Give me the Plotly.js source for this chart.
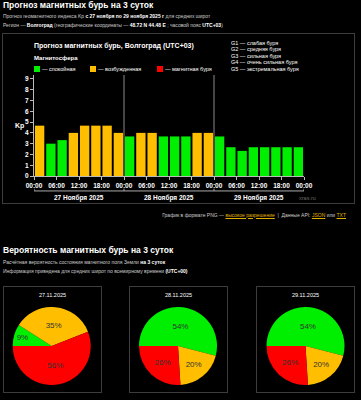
<!DOCTYPE html>
<html><head><meta charset="utf-8">
<script src="https://cdn.plot.ly/plotly-3.0.1.min.js"></script>
<style>
html,body{margin:0;padding:0;background:#000;width:361px;height:400px;overflow:hidden;font-family:"Liberation Sans",Arial,sans-serif;color:#fff;}
.a{position:absolute;white-space:nowrap;}
.h1{font-weight:bold;font-size:8.5px;line-height:9px;color:#fff;}
.sm{font-size:5px;line-height:5px;color:#ccc;}
.sm b{color:#fff;}
.box{position:absolute;border:1px solid #3c3c3c;box-sizing:border-box;}
.sq{position:absolute;width:6px;height:6px;}
.lg{font-size:5.5px;line-height:6px;color:#fff;}
.gl{font-size:5.5px;line-height:6.4px;color:#fff;}
.lnk{color:#e0b000;text-decoration:underline;}
.pt{font-size:5.5px;line-height:6px;color:#fff;text-align:center;width:99px;}
#bar{position:absolute;left:0;top:0;width:361px;height:210px;}
#pies{position:absolute;left:0;top:306.5px;width:361px;height:78px;}
</style></head><body>
<div class="a h1" style="left:3px;top:1px;">Прогноз магнитных бурь на 3 суток</div>
<div class="a sm" style="left:3px;top:14.3px;">Прогноз геомагнитного индекса Kp <b>с 27 ноября по 29 ноября 2025 г</b> для средних широт</div>
<div class="a sm" style="left:3px;top:23px;">Регион — <b>Волгоград</b> (географические координаты — <b>48.72 N 44.48 E</b> ; часовой пояс <b>UTC+03</b>)</div>
<div class="box" style="left:2px;top:33px;width:353px;height:171px;"></div>

<div class="a" style="left:34px;top:41.5px;font-weight:bold;font-size:7px;line-height:7px;">Прогноз магнитных бурь, Волгоград (UTC+03)</div>
<div class="a" style="left:34px;top:54.7px;font-weight:bold;font-size:6px;line-height:6px;">Магнитосфера</div>
<div id="legend"></div>
<div class="a gl" style="left:231px;top:40px;">G1 — слабая буря<br>G2 — средняя буря<br>G3 — сильная буря<br>G4 — очень сильная буря<br>G5 — экстремальная буря</div>

<div id="bar"></div>

<div class="a sm" style="right:15px;top:212.5px;">График в формате PNG — <span class="lnk">высокое разрешение</span> &nbsp;|&nbsp; Данные API: <span class="lnk">JSON</span> или <span class="lnk">TXT</span></div>

<div class="a h1" style="left:3px;top:245.5px;">Вероятность магнитных бурь на 3 суток</div>
<div class="a sm" style="left:3px;top:259.5px;">Расчётная вероятность состояния магнитного поля Земли <b>на 3 суток</b></div>
<div class="a sm" style="left:3px;top:269.2px;">Информация приведена для средних широт по всемирному времени <b>(UTC+00)</b></div>
<div id="pieboxes"></div>
<div id="pies"></div>

<script>
// ---- data ----
const days = ['2025-11-27', '2025-11-28', '2025-11-29'];
const dayLabels = ['27 Ноября 2025', '28 Ноября 2025', '29 Ноября 2025'];
const slots = ['00:00','03:00','06:00','09:00','12:00','15:00','18:00','21:00'];
const kpDay1 = [4.67, 3.00, 3.33, 4.00, 4.67, 4.67, 4.67, 4.00];
const kpDay2 = [3.67, 4.00, 4.00, 3.67, 3.67, 3.67, 4.00, 4.00];
const kpDay3 = [3.67, 2.67, 2.33, 2.67, 2.67, 2.67, 2.67, 2.67];
const kpTicks = [0,1,2,3,4,5,6,7,8,9];
const gTickText = ['','','','','','G1','G2','G3','G4','G5'];
const stateNames = ['спокойная', 'возбужденная', 'магнитная буря'];
const pieDates = ['27.11.2025', '28.11.2025', '29.11.2025'];
const pieCalm = [9, 54, 54];
const pieExcited = [35, 20, 20];
const pieStorm = [56, 26, 26];

// ---- styles ----
const GREEN = '#00ee00', ORANGE = '#ffbf00', RED = '#ff0000';
const stateColors = [GREEN, ORANGE, RED];
const FONT = 'Liberation Sans, Arial, sans-serif';
const tf = () => ({family:FONT, size:6.5, color:'#ffffff', weight:'bold'});

// legend (HTML)
const legendLeft = [34, 90, 157];
let lg = '';
stateNames.forEach((n, i) => {
  lg += `<div class="sq" style="left:${legendLeft[i]}px;top:66px;background:${stateColors[i]}"></div>`;
  lg += `<div class="a lg" style="left:${legendLeft[i]+8}px;top:66px;">— ${n}</div>`;
});
document.getElementById('legend').innerHTML = lg;

// ---- bar chart ----
const kpAll = [kpDay1, kpDay2, kpDay3];
const xs = [], ys = [], cols = [];
days.forEach((d, di) => slots.forEach((s, si) => {
  xs.push(d + ' ' + s);
  const v = kpAll[di][si];
  ys.push(v);
  cols.push(v >= 5 ? RED : (v >= 4 ? ORANGE : GREEN));
}));
const endDate = '2025-11-30';
const bounds = days.concat([endDate]);

const shapes = [];
bounds.slice(1, -1).forEach(b => shapes.push({type:'line', xref:'x', yref:'paper', x0:b, x1:b, y0:0, y1:1, line:{color:'#8a8a8a', width:1}}));
shapes.push({type:'line', xref:'x', yref:'paper', x0:bounds[0], x1:endDate, y0:-0.148, y1:-0.148, line:{color:'#aaa', width:1}});
bounds.forEach(b => shapes.push({type:'line', xref:'x', yref:'paper', x0:b, x1:b, y0:-0.148, y1:-0.125, line:{color:'#aaa', width:1}}));

const annotations = days.map((d, i) => ({
  x: d + ' 12:00', xref:'x', y:-0.218, yref:'paper', text: dayLabels[i], showarrow:false,
  font:tf(), yanchor:'middle'
}));
annotations.push({x:-0.055, xref:'paper', y:0.495, yref:'paper', text:'Kp', showarrow:false,
  font:{family:FONT, size:7, color:'#ffffff', weight:'bold'}, xanchor:'center', yanchor:'middle'});
annotations.push({x:1.012, xref:'paper', y:-0.218, yref:'paper', text:'xras.ru', showarrow:false,
  font:{family:FONT, size:5.5, color:'#6a6a6a'}, xanchor:'center', yanchor:'middle'});

Plotly.newPlot('bar', [{
  type:'bar', x:xs, y:ys, marker:{color:cols, line:{width:0}},
  xperiod: 3*3600*1000, xperiodalignment:'middle', hoverinfo:'skip'
}], {
  width:361, height:210, margin:{l:34, r:57, t:75, b:34},
  paper_bgcolor:'rgba(0,0,0,0)', plot_bgcolor:'rgba(0,0,0,0)',
  font:{family:FONT, color:'#ffffff'},
  bargap:0.17, showlegend:false,
  xaxis:{type:'date', range:[days[0], endDate], tick0:days[0], dtick:6*3600*1000, tickformat:'%H:%M',
    color:'#ffffff', showline:true, linecolor:'#bbb', ticks:'outside', ticklen:3, tickcolor:'#bbb', showgrid:false, zeroline:false,
    tickfont:tf()},
  yaxis:{range:[0, 9.37], tickvals:kpTicks, color:'#ffffff', showline:true, linecolor:'#bbb', ticks:'outside', ticklen:3,
    tickcolor:'#bbb', showgrid:false, zeroline:false, tickfont:tf()},
  yaxis2:{overlaying:'y', side:'right', anchor:'x', range:[0, 9.37], tickvals:kpTicks, ticktext:gTickText,
    color:'#ffffff', showline:true, linecolor:'#bbb', ticks:'outside', ticklen:3, tickcolor:'#bbb', showgrid:false, zeroline:false,
    tickfont:tf()},
  shapes:shapes, annotations:annotations
}, {staticPlot:true});

// ---- pies ----
const boxLeft = [3, 129, 256];
let pb = '';
pieDates.forEach((d, i) => {
  pb += `<div class="box" style="left:${boxLeft[i]}px;top:286px;width:99px;height:107px;"></div>`;
  pb += `<div class="a pt" style="left:${boxLeft[i]}px;top:292px;">${d}</div>`;
});
document.getElementById('pieboxes').innerHTML = pb;

const pieDomains = [[12.7, 90.7], [139, 217], [266.5, 344.5]];
const pieTraces = pieDates.map((d, i) => ({
  type:'pie', values:[pieCalm[i], pieExcited[i], pieStorm[i]], labels:stateNames,
  marker:{colors:stateColors, line:{width:0}}, sort:false, direction:'clockwise', rotation:-90,
  textinfo:'text', texttemplate:'%{value}%', textposition:'inside', insidetextorientation:'horizontal',
  textfont:{family:FONT, size:8, color:'#333'}, hoverinfo:'skip',
  domain:{x:[pieDomains[i][0]/361, pieDomains[i][1]/361], y:[0,1]}
}));
Plotly.newPlot('pies', pieTraces, {
  width:361, height:78, margin:{l:0, r:0, t:0, b:0}, showlegend:false,
  paper_bgcolor:'rgba(0,0,0,0)'
}, {staticPlot:true});
</script>
</body></html>
